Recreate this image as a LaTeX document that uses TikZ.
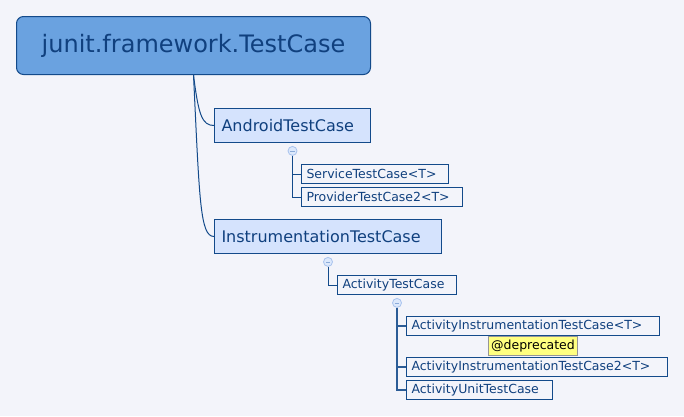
\documentclass[tikz,border=0pt]{standalone}
\usepackage{fontspec}
\setmainfont{DejaVu Sans}
\definecolor{mmbg}{RGB}{243,244,250}
\definecolor{mmdark}{RGB}{19,74,138}
\definecolor{mmtext}{RGB}{16,64,126}
\definecolor{mmroot}{RGB}{106,162,224}
\definecolor{mmclass}{RGB}{213,227,253}
\definecolor{mmtgl}{RGB}{220,232,251}
\definecolor{mmtglrim}{RGB}{169,195,238}
\definecolor{mmnote}{RGB}{255,255,128}
\definecolor{mmgray}{RGB}{150,150,150}
\usetikzlibrary{positioning}

\begin{document}
\begin{tikzpicture}[x=1pt,y=-1pt,
  rootbox/.style={draw=mmdark,fill=mmroot,rounded corners=7pt,line width=1pt,minimum width=354pt,minimum height=58pt,font=\fontsize{24}{28}\selectfont,text=mmtext,anchor=north west},
  classbox/.style={draw=mmdark,fill=mmclass,line width=1pt,minimum height=34pt,inner xsep=7pt,inner ysep=0pt,align=left,font=\fontsize{16}{19}\selectfont,text=mmtext,anchor=north west},
  subbox/.style={draw=mmdark,fill=mmbg,line width=1pt,minimum height=19pt,inner xsep=5pt,inner ysep=0pt,align=left,font=\fontsize{12.5}{15}\selectfont,text=mmtext,anchor=north west},
  notebox/.style={draw=mmgray,fill=mmnote,line width=0.8pt,minimum height=19pt,inner xsep=3pt,inner ysep=0pt,font=\fontsize{12.5}{15}\selectfont},
  tgl/.style={circle,draw=mmtglrim,fill=mmtgl,line width=0.8pt,minimum size=9pt,inner sep=0pt,
    path picture={\draw[mmtglrim!80!mmdark,line width=0.8pt] ([xshift=-2.2pt]path picture bounding box.center) -- ([xshift=2.2pt]path picture bounding box.center);}},
  link/.style={mmdark,line width=1pt},
  tree/.style={mmdark,line width=1pt},
  treebold/.style={mmdark!90,line width=1.8pt}]
  \fill[mmbg] (0,0) rectangle (684,416);
  \useasboundingbox (0,0) rectangle (684,416);
  % Root
  \node[rootbox] (root) at (16,16) {junit.framework.TestCase};
  % First level
  \node[classbox,text width=142pt] (android) at (214,108) {AndroidTestCase};
  \node[classbox,text width=213pt] (instr) at (214,219) {InstrumentationTestCase};
  \draw[link] (root.south) .. controls +(5,40) and +(-12,0) .. (android.west);
  \draw[link] (root.south) .. controls +(6,125) and +(-14,0) .. (instr.west);
  % Under AndroidTestCase
  \node[tgl] (tglA) [below=3pt of android] {};
  \node[subbox,text width=137pt] (service) at (301,164) {ServiceTestCase<T>};
  \node[subbox,text width=151pt] (provider) at (301,187) {ProviderTestCase2<T>};
  \draw[tree] (tglA) |- (service.west);
  \draw[tree] (tglA) |- (provider.west);
  % Under InstrumentationTestCase
  \node[tgl] (tglI) [below=3pt of instr] {};
  \node[subbox,text width=109pt] (activity) at (337,275) {ActivityTestCase};
  \draw[tree] (tglI) |- (activity.west);
  % Under ActivityTestCase
  \node[tgl] (tglT) [below=3pt of activity] {};
  \node[subbox,text width=243pt] (actinstr) at (406,316) {ActivityInstrumentationTestCase<T>};
  \node[notebox] (deprecated) [below=0pt of actinstr] {@deprecated};
  \node[subbox,text width=251pt] (actinstr2) at (406,357) {ActivityInstrumentationTestCase2<T>};
  \node[subbox,text width=136pt] (actunit) at (406,380) {ActivityUnitTestCase};
  \draw[treebold] (tglT) |- (actunit.west);
  \draw[treebold] (tglT) |- (actinstr.west);
  \draw[treebold] (tglT) |- (actinstr2.west);
\end{tikzpicture}
\end{document}
